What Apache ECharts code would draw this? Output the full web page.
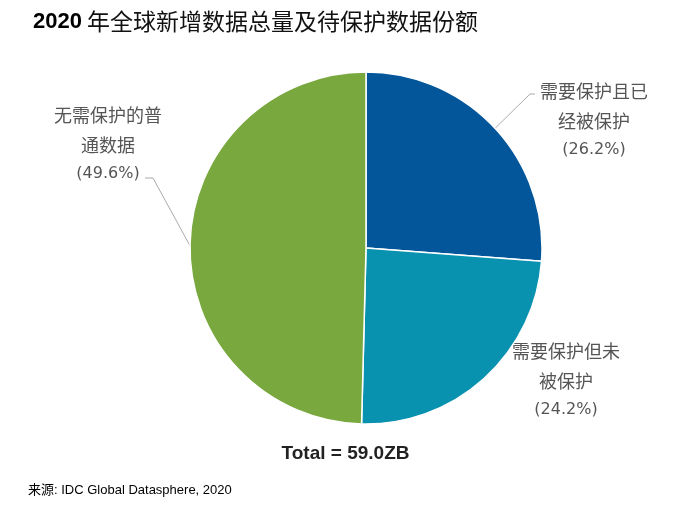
<!DOCTYPE html>
<html>
<head>
<meta charset="utf-8">
<script src="https://cdn.jsdelivr.net/npm/echarts@6/dist/echarts.min.js"></script>
<style>
html,body{margin:0;padding:0;background:#fff;}
#chart{width:691px;height:521px;}
</style>
</head>
<body>
<div id="chart"></div>
<script>
// 2020 年全球新增数据份额 (IDC)
var categories=['需要保护且已\n经被保护','需要保护但未\n被保护','无需保护的普\n通数据'];
var shares=[26.2,24.2,49.6];
var colors=['#04569a','#0992b0','#78a83e'];
var totalText='Total = 59.0ZB';
var titleYear='2020';
var titleText='年全球新增数据总量及待保护数据份额';
var sourceText='IDC Global Datasphere, 2020';

var chart=echarts.init(document.getElementById('chart'));
var latin="'Liberation Sans','Noto Sans CJK SC',sans-serif";

var data=[];
for(var i=0;i<shares.length;i++){
	data.push({
		name:categories[i],
		value:shares[i],
		itemStyle:{color:colors[i]},
		labelLine:{show:i!==1}
	});
}

chart.setOption({
	animation:false,
	title:{
		left:28,
		top:5,
		text:'{y|'+titleYear+'} {t|'+titleText+'}',
		textStyle:{
			rich:{
				y:{fontFamily:'Liberation Sans',fontWeight:'bold',fontSize:22,color:'#000'},
				t:{fontFamily:'Noto Sans CJK SC',fontWeight:'normal',fontSize:23,color:'#111'}
			}
		}
	},
	graphic:[
		{
			type:'text',
			left:'center',
			top:444,
			style:{
				text:totalText,
				font:"bold 19px 'Liberation Sans'",
				fill:'#222'
			}
		},
		{
			type:'text',
			left:28,
			top:484,
			style:{
				text:'{s|来源}{n|: '+sourceText+'}',
				rich:{
					s:{fontFamily:latin,fontSize:13,lineHeight:16,color:'#5a2446'},
					n:{fontFamily:latin,fontSize:13,lineHeight:16,color:'#000'}
				}
			}
		}
	],
	series:[{
		type:'pie',
		center:[366,248],
		radius:176,
		startAngle:90,
		clockwise:true,
		itemStyle:{borderColor:'#fff',borderWidth:1.5},
		label:{
			show:true,
			position:'outside',
			formatter:function(p){
				var rows=p.name.split('\n');
				var out=[];
				for(var k=0;k<rows.length;k++) out.push('{c|'+rows[k]+'}');
				out.push('{p|('+p.value.toFixed(1)+'%)}');
				return out.join('\n');
			},
			align:'center',
			rich:{
				c:{fontFamily:'Noto Sans CJK SC',fontSize:18,lineHeight:30,color:'#555'},
				p:{fontFamily:'DejaVu Sans',fontSize:16,lineHeight:28,color:'#555'}
			}
		},
		labelLine:{
			show:true,
			lineStyle:{color:'#aaa',width:1}
		},
		labelLayout:function(p){
			var a=p.labelLinePoints;
			if(p.dataIndex===0){
				return {x:594,y:120,align:'center',verticalAlign:'middle',
					labelLinePoints:a?[a[0],[530,94],[535,94]]:undefined};
			}
			if(p.dataIndex===1){
				return {x:566,y:380,align:'center',verticalAlign:'middle'};
			}
			return {x:108,y:144,align:'center',verticalAlign:'middle',
				labelLinePoints:a?[a[0],[153,178],[145,178]]:undefined};
		},
		data:data
	}]
});
</script>
</body>
</html>
